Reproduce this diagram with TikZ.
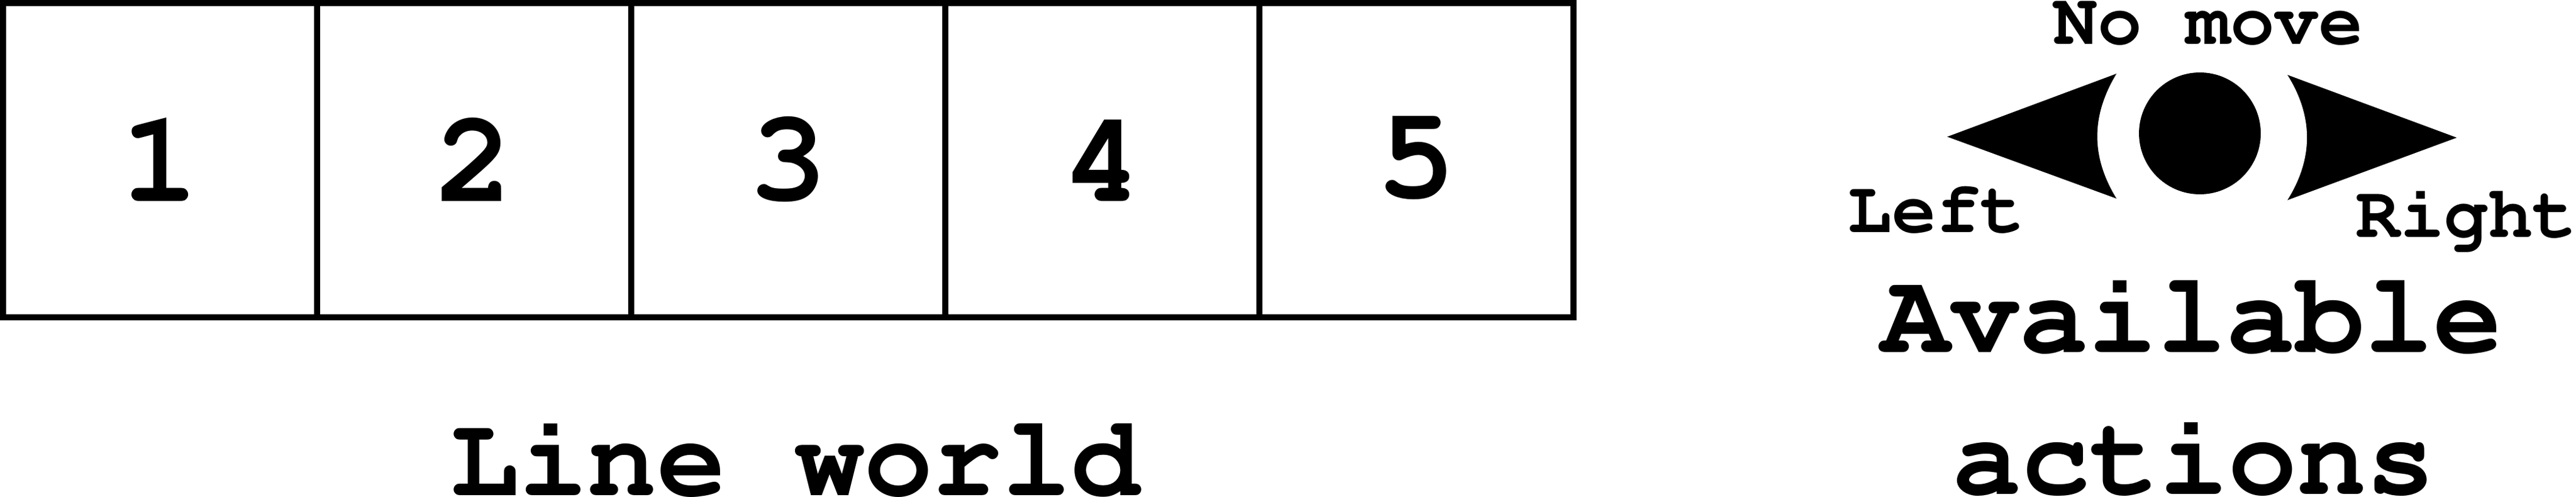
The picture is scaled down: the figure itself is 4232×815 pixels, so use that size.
\documentclass[tikz,border=0pt]{standalone}
\usepackage[T1]{fontenc}
\newcommand{\cellfont}{\fontfamily{pcr}\fontseries{b}\fontsize{21.5pt}{25pt}\selectfont}
\newcommand{\titlefont}{\fontfamily{pcr}\fontseries{b}\fontsize{18.9pt}{23pt}\selectfont}
\newcommand{\actfont}{\fontfamily{pcr}\fontseries{b}\fontsize{12.1pt}{14pt}\selectfont}
\tikzset{
  cellbox/.style={draw, line width=1pt, minimum width=51.6pt, minimum height=51.6pt, inner sep=0pt, font=\cellfont},
  titlelabel/.style={anchor=base, inner sep=0pt, font=\titlefont},
  actlabel/.style={anchor=base, inner sep=0pt, font=\actfont},
}
\begin{document}
\begin{tikzpicture}[x=0.1pt,y=0.1pt,yscale=-1,xscale=1]
\path[use as bounding box] (0,0) rectangle (4232,815);

%Shape: the five cells of the line world
\foreach \i in {1,...,5}
  \node[cellbox] (cell\i) at ({5+516*(\i-0.5)},263) {\i};

% Text Node
\node[titlelabel] (lineworld) at (1306,813) {Line world};

%Shape: No move dot
\coordinate (nomove) at (3614,219);
\fill (nomove) circle (10pt);
%Shape: Left arrow head
\fill (3199,224.5) -- (3477,121) .. controls (3435,190) and (3435,258) .. (3477,326) -- cycle;
%Shape: Right arrow head
\fill (4036,226) -- (3758,123) .. controls (3800.7,191.5) and (3800.7,260) .. (3758,328.5) -- cycle;

% Text Node
\node[actlabel] (nomovelabel) at (3628,73) {No move};
% Text Node
\node[actlabel] (leftlabel) at (3181,381) {Left};
% Text Node
\node[actlabel] (rightlabel) at (4052,389) {Right};
% Text Node
\node[titlelabel] (available) at (3601,578.5) {Available};
% Text Node
\node[titlelabel] (actions) at (3604,811) {actions};

\end{tikzpicture}
\end{document}
